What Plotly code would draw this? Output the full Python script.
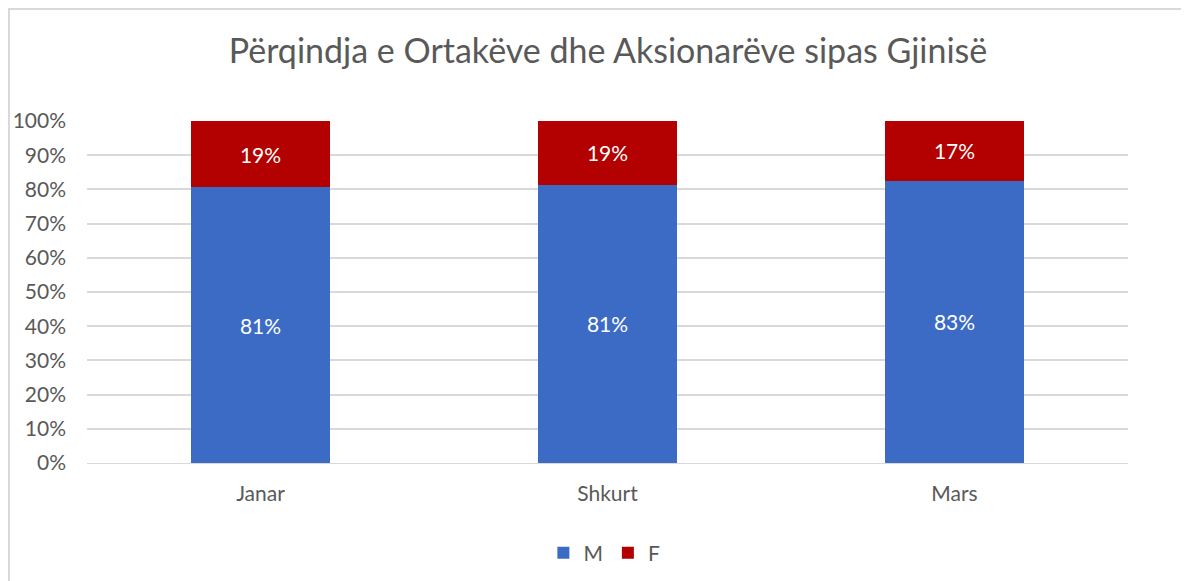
import plotly.graph_objects as go

categories = ["Janar", "Shkurt", "Mars"]
m_values = [80.7, 81.3, 82.6]
f_values = [19.3, 18.7, 17.4]
y_ticks = [0, 10, 20, 30, 40, 50, 60, 70, 80, 90, 100]
y_tick_labels = [f"{v}%" for v in y_ticks]

FONT = "Lato, 'Open Sans', sans-serif"
GREY = "#595959"

fig = go.Figure()
fig.add_trace(go.Bar(
    name="M", x=categories, y=m_values, marker_color="#3C6BC6",
    texttemplate="%{y:.0f}%", textposition="inside", insidetextanchor="middle",
    textfont=dict(color="white", size=21, family=FONT), width=0.4,
    marker_line_width=0,
))
fig.add_trace(go.Bar(
    name="F", x=categories, y=f_values, marker_color="#B30000",
    texttemplate="%{y:.0f}%", textposition="inside", insidetextanchor="middle",
    textfont=dict(color="white", size=21, family=FONT), width=0.4,
    marker_line_width=0,
))

W, H = 1189, 581
L, T, R, B = 79, 113, 69, 126
PW, PH = W - L - R, H - T - B

fig.update_layout(
    barmode="stack",
    width=W, height=H,
    margin=dict(l=L, r=R, t=T, b=B, autoexpand=False),
    paper_bgcolor="white", plot_bgcolor="white",
    font=dict(family=FONT, color=GREY, size=21),
    title=dict(text="Përqindja e Ortakëve dhe Aksionarëve sipas Gjinisë",
               x=(608 - 8) / W, xanchor="center", y=1 - 43 / H, yanchor="middle",
               font=dict(size=34, color=GREY, family=FONT)),
    legend=dict(orientation="h", x=0.497, xanchor="center", y=(455 - 545) / PH, yanchor="middle",
                font=dict(size=21, color=GREY), itemwidth=30, traceorder="normal"),
    shapes=[dict(type="rect", xref="paper", yref="paper",
                 x0=(1 - L) / PW, x1=1.3, y0=-0.6, y1=1 + (T - 1) / PH,
                 line=dict(color="#d9d9d9", width=2), fillcolor="rgba(0,0,0,0)",
                 layer="below")],
)
fig.update_xaxes(showgrid=False, showline=True, linecolor="#d9d9d9", linewidth=1,
                 tickfont=dict(size=21, color=GREY), ticks="", ticklabelstandoff=12,
                 automargin=False)
fig.update_yaxes(range=[0, 100], tickvals=y_ticks, ticktext=y_tick_labels,
                 showgrid=True, gridcolor="#d9d9d9", gridwidth=1.5,
                 zeroline=False, showline=False, automargin=False,
                 tickfont=dict(size=21, color=GREY), ticklabelstandoff=20)

fig.write_html("out.html")
